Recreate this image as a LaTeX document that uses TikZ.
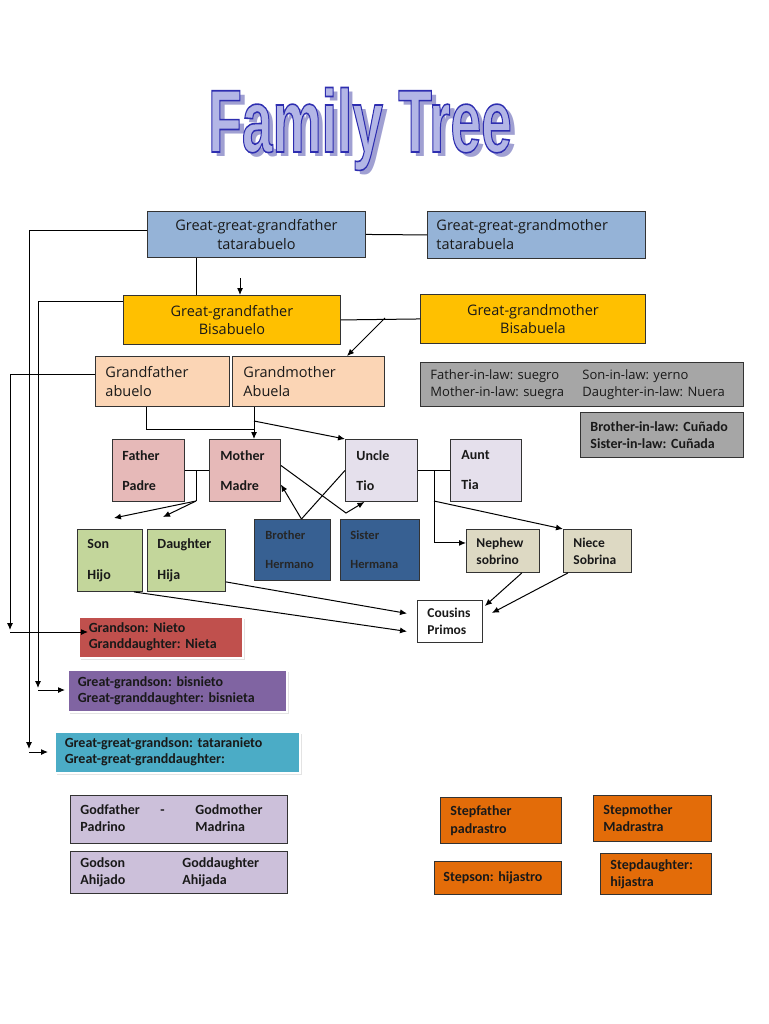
\documentclass[tikz,border=0pt]{standalone}
\usepackage{fontspec}
\usepackage{graphicx}
\usetikzlibrary{arrows.meta,shadows}
\newfontfamily\boxfont{Open Sans}
\newfontfamily\calfont{Carlito}
\newfontfamily\titlefont{Liberation Sans}
\frenchspacing
\definecolor{skyBlue}{HTML}{95B3D7}
\definecolor{goldFill}{HTML}{FFC000}
\definecolor{peach}{HTML}{FBD5B5}
\definecolor{lawGray}{HTML}{A6A6A6}
\definecolor{rose}{HTML}{E6B9B8}
\definecolor{lilac}{HTML}{E5E0EC}
\definecolor{navy}{HTML}{376092}
\definecolor{sage}{HTML}{C3D69B}
\definecolor{khaki}{HTML}{DDD9C3}
\definecolor{brick}{HTML}{C0504D}
\definecolor{plum}{HTML}{8064A2}
\definecolor{teal}{HTML}{4BACC6}
\definecolor{lavender}{HTML}{CCC0DA}
\definecolor{pumpkin}{HTML}{E36C09}
\definecolor{titleFill}{HTML}{B3B6E6}
\definecolor{titleShade}{HTML}{A0A0D2}
% stroke the title letters in dark blue
\newcommand\outlined[1]{\special{pdf:literal direct 2 Tr 1.6 w 0.18 0.18 0.69 RG}#1\special{pdf:literal direct 0 Tr}}
\tikzset{
	famBox/.style={draw=black!80, line width=0.9pt, inner ysep=0pt, anchor=north west, text=black!90},
	comic/.style={font=\boxfont\fontsize{14.5}{19}\selectfont},
	calbold/.style={font=\calfont\bfseries\fontsize{14}{16}\selectfont},
	calpair/.style={font=\calfont\bfseries\fontsize{14}{17}\selectfont},
	glowBox/.style={famBox, draw=white, line width=1.5pt, drop shadow={shadow xshift=2.5pt, shadow yshift=-2.5pt, fill=black!22}},
	link/.style={line width=1pt},
	arr/.style={link, -{Latex[length=7pt,width=6pt]}},
	titleText/.style={font=\titlefont\bfseries\fontsize{89}{89}\selectfont, inner sep=0pt, anchor=base}
}

\begin{document}
\begin{tikzpicture}[x=1pt, y=-1pt]
			\useasboundingbox (0,0) rectangle (768,1024);
			%%%%% TITLE %%%%%
			\node[titleText, text=titleShade] (titleShadow) at (365,157) {\scalebox{0.62}[1]{Family Tree}};
			\node[titleText, text=titleFill] (title) at (360,152) {\outlined{\scalebox{0.62}[1]{Family Tree}}};
			
			%%%%% ANCESTORS %%%%%
			\node[famBox, comic, fill=skyBlue, minimum width=218, minimum height=46, align=center] (ggf) at (147,211) {Great-great-grandfather\\tatarabuelo};
			\node[famBox, comic, fill=skyBlue, minimum height=47, text width=200, inner xsep=9, align=left] (ggm) at (427,211) {Great-great-grandmother\\tatarabuela};
			\node[famBox, comic, font=\boxfont\fontsize{14.5}{17.5}\selectfont, fill=goldFill, minimum width=217, minimum height=49, align=center] (gf) at (123,295) {Great-grandfather\\Bisabuelo};
			\node[famBox, comic, font=\boxfont\fontsize{14.5}{17.5}\selectfont, fill=goldFill, minimum width=225, minimum height=49, align=center] (gm) at (420,294) {Great-grandmother\\Bisabuela};
			\node[famBox, comic, fill=peach, minimum height=50, text width=114, inner xsep=10, align=left] (gfa) at (95,356) {Grandfather\\abuelo};
			\node[famBox, comic, fill=peach, minimum height=50, text width=130, inner xsep=11, align=left] (gma) at (232,356) {Grandmother\\Abuela};
			
			%%%%% IN-LAWS %%%%%
			\node[famBox, font=\boxfont\fontsize{13}{17}\selectfont, fill=lawGray, minimum height=44, text width=303, inner xsep=10, align=left] (inlaw) at (420,362) {\begin{tabular}{@{}p{152pt}@{}l@{}}Father-in-law: suegro & Son-in-law: yerno\\Mother-in-law: suegra & Daughter-in-law: Nuera\end{tabular}};
			\node[famBox, calpair, fill=lawGray, minimum height=45, text width=143, inner xsep=10, align=left] (sibLaw) at (580,412) {Brother-in-law: Cuñado\\Sister-in-law: Cuñada};
			
			%%%%% PARENTS, UNCLE, AUNT %%%%%
			\node[famBox, calbold, fill=rose, minimum height=62, text width=52, inner xsep=10, align=left] (father) at (112,439) {Father\\[14pt]Padre};
			\node[famBox, calbold, fill=rose, minimum height=62, text width=49, inner xsep=11, align=left] (mother) at (209,439) {Mother\\[14pt]Madre};
			\node[famBox, calbold, fill=lilac, minimum height=62, text width=50, inner xsep=11, align=left] (uncle) at (345,439) {Uncle\\[14pt]Tio};
			\node[famBox, calbold, fill=lilac, minimum height=62, text width=49, inner xsep=11, align=left] (aunt) at (450,439) {Aunt\\[14pt]Tia};
			
			%%%%% CHILDREN %%%%%
			\node[famBox, font=\calfont\bfseries\fontsize{12.5}{13}\selectfont, text=black!85, fill=navy, minimum height=61, text width=54, inner xsep=11, align=left] (brother) at (254,519) {Brother\\[16pt]Hermano};
			\node[famBox, font=\calfont\bfseries\fontsize{12.5}{13}\selectfont, text=black!85, fill=navy, minimum height=61, text width=59, inner xsep=10, align=left] (sister) at (340,519) {Sister\\[16pt]Hermana};
			\node[famBox, calbold, fill=sage, minimum height=62, text width=45, inner xsep=10, align=left] (son) at (77,529) {Son\\[15pt]Hijo};
			\node[famBox, calbold, fill=sage, minimum height=62, text width=58, inner xsep=10, align=left] (daughter) at (147,529) {Daughter\\[15pt]Hija};
			\node[famBox, calpair, font=\calfont\bfseries\fontsize{13.5}{17}\selectfont, fill=khaki, minimum height=43, text width=53, inner xsep=10, align=left] (nephew) at (466,529) {Nephew\\sobrino};
			\node[famBox, calpair, font=\calfont\bfseries\fontsize{13.5}{17}\selectfont, fill=khaki, minimum height=43, text width=48, inner xsep=10, align=left] (niece) at (563,529) {Niece\\Sobrina};
			\node[famBox, calpair, font=\calfont\bfseries\fontsize{13.5}{17}\selectfont, fill=white, minimum height=42, text width=45, inner xsep=10, align=left] (cousins) at (417,600) {Cousins\\Primos};
			
			%%%%% DESCENDANTS %%%%%
			\node[glowBox, calbold, fill=brick, minimum height=41, text width=144, inner xsep=10, align=left] (grandson) at (78,616) {Grandson: Nieto\\Granddaughter: Nieta};
			\node[glowBox, calbold, fill=plum, minimum height=42, text width=199, inner xsep=10, align=left] (ggson) at (67,669) {Great-grandson: bisnieto\\Great-granddaughter: bisnieta};
			\node[glowBox, calbold, fill=teal, minimum height=41, text width=225, inner xsep=10, align=left] (gggson) at (54,731) {Great-great-grandson: tataranieto\\Great-great-granddaughter:};
			
			%%%%% GODPARENTS %%%%%
			\node[famBox, calpair, fill=lavender, minimum height=48, text width=197, inner xsep=10, align=left] (godfather) at (70,795) {\begin{tabular}{@{}p{80pt}@{}p{35pt}@{}l@{}}Godfather & - & Godmother\\Padrino & & Madrina\end{tabular}};
			\node[famBox, calpair, fill=lavender, minimum height=42, text width=197, inner xsep=10, align=left] (godson) at (70,851) {\begin{tabular}{@{}p{102pt}@{}l@{}}Godson & Goddaughter\\Ahijado & Ahijada\end{tabular}};
			
			%%%%% STEP FAMILY %%%%%
			\node[famBox, calpair, font=\calfont\bfseries\fontsize{14}{18}\selectfont, fill=pumpkin, minimum height=46, text width=101, inner xsep=10, align=left] (stepfather) at (440,797) {Stepfather\\padrastro};
			\node[famBox, calpair, fill=pumpkin, minimum height=46, text width=98, inner xsep=10, align=left] (stepmother) at (593,795) {Stepmother\\Madrastra};
			\node[famBox, calbold, fill=pumpkin, minimum height=33, text width=109, inner xsep=9, align=left] (stepson) at (434,861) {Stepson: hijastro};
			\node[famBox, calpair, fill=pumpkin, minimum height=41, text width=91, inner xsep=10, align=left] (stepdaughter) at (600,853) {Stepdaughter:\\hijastra};
			
			%%%%% LINKS %%%%%
			\coordinate (gggTurn) at (29,749);
			\coordinate (gggTip) at (48,752);
			\coordinate (ggTurn) at (38,688);
			\coordinate (ggTip) at (65,690);
			\coordinate (gsTurn) at (10,630);
			\coordinate (gsTip) at (88,632);
			\draw[arr] ([yshift=4pt]ggf.west) -| (gggTurn);
			\draw[arr] (gggTurn |- gggTip) -- (gggTip);
			\draw[arr] ([yshift=-6pt]gf.north west) -| (ggTurn);
			\draw[arr] (ggTurn |- ggTip) -- (ggTip);
			\draw[arr] ([yshift=7pt]gfa.west) -| (gsTurn);
			\draw[arr] (gsTurn |- gsTip) -- (gsTip);
			
			\draw[link] (ggf.east) -- (ggm.west);
			\draw[link] ([xshift=49pt]ggf.south west) -- ([xshift=49pt]ggf.south west |- gf.north);
			\coordinate (ggfDrop) at (240,278);
			\draw[arr] (ggfDrop) -- (ggfDrop |- gf.north);
			
			\draw[link] (gf.east) -- (gm.west);
			\coordinate (gmJoin) at (385,318);
			\draw[arr] (gmJoin) -- ([xshift=115pt]gma.north west);
			
			\coordinate (famJoin) at (254,429);
			\coordinate (uncleFork) at (254,421);
			\draw[link] ([xshift=51pt]gfa.south west) |- (famJoin);
			\draw[arr] ([xshift=22pt]gma.south west) -- ([xshift=22pt]gma.south west |- mother.north);
			\draw[arr] (uncleFork) -- (uncle.north west);
			
			\coordinate (kidsFork) at (196,501);
			\draw[link] (father.east) -- (mother.west);
			\draw[link] (father.east -| kidsFork) -- (kidsFork);
			\draw[arr] (kidsFork) -- ([xshift=4pt,yshift=11pt]son.north);
			\draw[arr] (kidsFork) -- ([xshift=16pt,yshift=12pt]daughter.north west);
			
			\draw[arr] ([xshift=9pt]brother.north) -- ([yshift=-14pt]mother.east);
			\draw[link] ([xshift=9pt]brother.north) -- (uncle.west);
			\coordinate (sisKink) at (346,513);
			\draw[arr] ([yshift=5pt]mother.east) -- (sisKink) -- ([xshift=-17pt]uncle.south);
			
			\coordinate (nieceFork) at (434,501);
			\draw[link] (uncle.east) -- (aunt.west);
			\draw[arr] (uncle.east -| nieceFork) |- ([yshift=8pt]nephew.west);
			\draw[arr] (nieceFork) -- (niece.north west);
			
			\draw[arr] ([yshift=10pt]daughter.south east) -- ([xshift=-10pt,yshift=8pt]cousins.west);
			\draw[arr] ([xshift=-9pt]son.south east) -- ([xshift=-10pt,yshift=-10pt]cousins.west);
			\draw[arr] ([xshift=-18pt]nephew.south east) -- ([xshift=2pt,yshift=-6pt]cousins.north east);
			\draw[arr] ([xshift=5pt]niece.south west) -- ([xshift=9pt,yshift=-13pt]cousins.north east);
\end{tikzpicture}
\end{document}
